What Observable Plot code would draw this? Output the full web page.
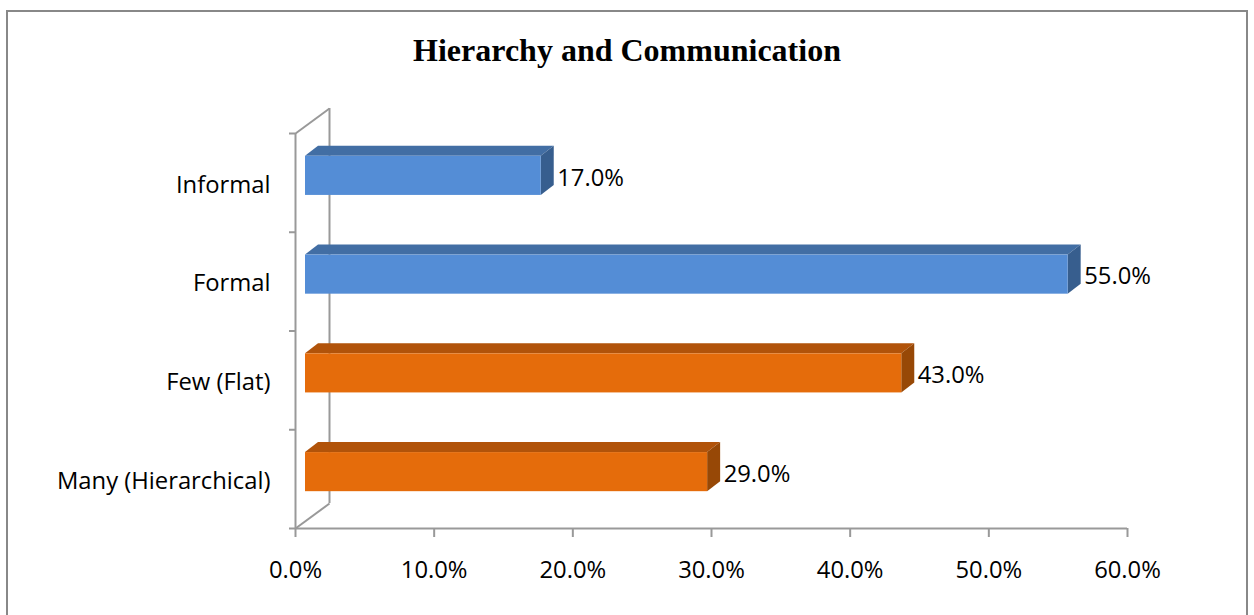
<!DOCTYPE html>
<html>
<head>
<meta charset="utf-8">
<script src="https://cdn.jsdelivr.net/npm/d3@7"></script>
<script src="https://cdn.jsdelivr.net/npm/@observablehq/plot@0.6"></script>
<style>
  html, body { margin: 0; padding: 0; background: #fff; width: 1254px; height: 615px; overflow: hidden; }
  #frame { position: absolute; left: 6px; top: 10px; width: 1242px; height: 700px; border: 2px solid #888; box-sizing: border-box; }
  #title { position: absolute; left: 0; top: 31px; width: 1254px; text-align: center; font-family: "Liberation Serif", "Times New Roman", serif; font-weight: bold; font-size: 32px; line-height: 38px; color: #000; }
  #chart { position: absolute; left: 0; top: 0; }
</style>
</head>
<body>
<div id="frame"></div>
<div id="title">Hierarchy and Communication</div>
<div id="chart"></div>
<script>
// ---- data ----
const categories = ["Informal", "Formal", "Few (Flat)", "Many (Hierarchical)"];
const values = [0.17, 0.55, 0.43, 0.29];
const groups = ["Communication", "Communication", "Hierarchy", "Hierarchy"];
const xTicks = [0, 0.1, 0.2, 0.3, 0.4, 0.5, 0.6];

// ---- layout / style ----
const W = 1254, H = 615;
const mL = 295, mR = 127, mT = 133, mB = 87;
const xMax = 0.6, nCat = categories.length;
const kx = (W - mL - mR) / xMax;   // px per x unit
const ky = (H - mT - mB) / nCat;   // px per category band
const axisColor = "#999";
const frontColor = {Communication: "#548dd6", Hierarchy: "#e56c0b"};
const topColor = {Communication: "#426ea4", Hierarchy: "#b1530a"};
const sideColor = {Communication: "#375e8e", Hierarchy: "#974806"};
const half = 0.198;                 // half bar thickness (band units)
const depthX = 13 / kx, depthY = 10 / ky;   // bar depth
const wallX = 34 / kx, wallY = 25 / ky;     // wall depth
const shiftX = 10, shiftY = -7;             // bar offset into depth (px)
const fontSize = 23.8;

const rows = categories.map((c, i) => ({
  category: c, value: values[i], group: groups[i], y: nCat - i - 0.5
}));

const topPts = rows.flatMap(d => [
  {category: d.category, group: d.group, y: d.y + half, x1: 0, x2: d.value},
  {category: d.category, group: d.group, y: d.y + half + depthY, x1: depthX, x2: d.value + depthX}
]);
const sidePts = rows.flatMap(d => [
  {category: d.category, group: d.group, x: d.value, y1: d.y - half, y2: d.y + half},
  {category: d.category, group: d.group, x: d.value + depthX, y1: d.y - half + depthY, y2: d.y + half + depthY}
]);
const bounds = d3.range(nCat + 1);

const plot = Plot.plot({
  width: W, height: H,
  marginLeft: mL, marginRight: mR, marginTop: mT, marginBottom: mB,
  x: {domain: [0, xMax], axis: null},
  y: {domain: [0, nCat], axis: null},
  style: {fontFamily: "'Open Sans', Lato, sans-serif", fontSize: fontSize + "px", color: "#000", background: "transparent"},
  marks: [
    // back wall
    Plot.ruleX([wallX], {y1: wallY, y2: nCat + wallY, stroke: axisColor, strokeWidth: 2}),
    Plot.link([0, nCat], {x1: () => 0, y1: d => d, x2: () => wallX, y2: d => d + wallY, stroke: axisColor, strokeWidth: 2}),
    // front axes
    Plot.ruleX([0], {y1: 0, y2: nCat, stroke: axisColor, strokeWidth: 2}),
    Plot.ruleY([0], {x1: 0, x2: xMax, stroke: axisColor, strokeWidth: 2}),
    Plot.axisY(bounds, {tickFormat: () => "", tickSize: 6, stroke: axisColor, strokeWidth: 2}),
    Plot.axisX(xTicks, {tickFormat: d3.format(".1%"), tickSize: 9, tickPadding: 24, stroke: axisColor, strokeWidth: 2, fill: "#000", fontSize: fontSize}),
    // 3D bars
    Plot.areaX(topPts, {y: "y", x1: "x1", x2: "x2", z: "category", fill: d => topColor[d.group], dx: shiftX, dy: shiftY}),
    Plot.areaY(sidePts, {x: "x", y1: "y1", y2: "y2", z: "category", fill: d => sideColor[d.group], dx: shiftX, dy: shiftY}),
    Plot.rect(rows, {x1: 0, x2: "value", y1: d => d.y - half, y2: d => d.y + half, fill: d => frontColor[d.group], dx: shiftX, dy: shiftY}),
    // labels
    Plot.text(rows, {x: "value", y: "y", text: d => d3.format(".1%")(d.value), textAnchor: "start", dx: 26, dy: -5, fill: "#000"}),
    Plot.text(rows, {x: () => 0, y: "y", text: "category", textAnchor: "end", dx: -25, dy: 2, fill: "#000"})
  ]
});
document.getElementById("chart").appendChild(plot);
</script>
</body>
</html>
